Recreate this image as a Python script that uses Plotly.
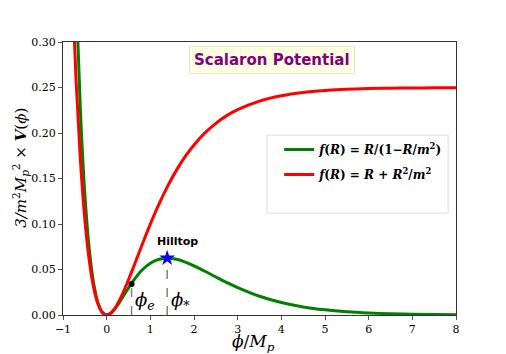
import plotly.graph_objects as go

# phi / M_p grid and potential values
phi = [-0.8, -0.7, -0.6, -0.5, -0.4, -0.3, -0.2, -0.1, 0.0, 0.1, 0.2, 0.3, 0.4, 0.5, 0.6,
       0.8, 1.0, 1.2, 1.4, 1.6, 1.8, 2.0, 2.25, 2.5, 2.75, 3.0, 3.5, 4.0, 4.5, 5.0,
       5.5, 6.0, 6.5, 7.0, 7.5, 8.0]
v_starobinsky = [0.3755, 0.2569, 0.1690, 0.1052, 0.0605, 0.0306, 0.01226, 0.00277, 0.0,
                 0.00227, 0.00822, 0.0168, 0.0272, 0.0387, 0.0509, 0.0758, 0.0999, 0.1221,
                 0.1419, 0.1592, 0.1742, 0.1869, 0.2001, 0.2106, 0.2191, 0.2257, 0.2351,
                 0.2409, 0.2445, 0.2466, 0.2480, 0.2488, 0.2493, 0.2495, 0.2497, 0.2498]
v_hilltop = [0.5383, 0.3537, 0.2231, 0.1330, 0.0731, 0.0353, 0.01352, 0.00291, 0.0,
             0.00215, 0.00742, 0.01437, 0.02203, 0.02968, 0.03687, 0.04884, 0.05697,
             0.06132, 0.06249, 0.06123, 0.0582, 0.05406, 0.04807, 0.0418, 0.03568,
             0.03006, 0.02061, 0.0137, 0.00889, 0.00568, 0.00358, 0.00224, 0.00139,
             0.00086, 0.00052, 0.00032]

phi_e, v_e = 0.57, 0.034
phi_star, v_star = 1.386, 0.0625

serif = "DejaVu Serif"
sans = "DejaVu Sans"

fig = go.Figure()

fig.add_trace(go.Scatter(
    x=phi, y=v_hilltop, mode="lines", line=dict(color="green", width=3, shape="spline"),
    legendgroup="a",
    name="<b><i>f</i>(<i>R</i>) = <i>R</i>/(1−<i>R</i>/<i>m</i><sup>2</sup>)</b>"))
fig.add_trace(go.Scatter(
    x=phi, y=v_starobinsky, mode="lines", line=dict(color="red", width=3, shape="spline"),
    legendgroup="b",
    name="<b><i>f</i>(<i>R</i>) = <i>R</i> + <i>R</i><sup>2</sup>/<i>m</i><sup>2</sup></b>"))

# dashed drop lines
for xv, yv in [(phi_e, v_e), (phi_star, v_star)]:
    fig.add_trace(go.Scatter(x=[xv, xv], y=[0, yv], mode="lines", showlegend=False,
                             line=dict(color="gray", width=1.5, dash="dash")))

fig.add_trace(go.Scatter(x=[phi_e], y=[v_e], mode="markers", showlegend=False,
                         marker=dict(color="black", size=6)))
fig.add_trace(go.Scatter(x=[phi_star], y=[v_star], mode="markers", showlegend=False,
                         marker=dict(color="blue", size=12, symbol="star")))

fig.add_annotation(x=phi_e + 0.04, y=0.015, text="<i>ϕ</i><sub><i>e</i></sub>", showarrow=False,
                   xanchor="left", font=dict(family=serif, size=18, color="black"))
fig.add_annotation(x=phi_star + 0.05, y=0.015, text="<i>ϕ</i><sub>*</sub>", showarrow=False,
                   xanchor="left", font=dict(family=serif, size=18, color="black"))
fig.add_annotation(x=1.63, y=0.0805, text="<b>Hilltop</b>", showarrow=False,
                   font=dict(family=sans, size=11, color="black"))
fig.add_annotation(x=3.78, y=0.28, text="<b>Scalaron Potential</b>", showarrow=False,
                   font=dict(family=sans, size=15, color="purple"),
                   bgcolor="#FFFFE0", bordercolor="#e6e6d0", borderwidth=1, borderpad=4)

# axis titles
fig.add_annotation(xref="paper", yref="paper", x=0.485, y=-0.102, yanchor="middle",
                   text="<i>ϕ</i>/<i>M</i><sub><i>p</i></sub>", showarrow=False,
                   font=dict(family=serif, size=17, color="black"))
fig.add_annotation(xref="paper", yref="paper", x=-0.109, y=0.54, textangle=-90,
                   xanchor="center", yanchor="middle",
                   text="<i>3/m</i><sup>2</sup><i>M</i><sub><i>p</i></sub><sup>2</sup> × <b><i>V</i></b>(<i>ϕ</i>)",
                   showarrow=False, font=dict(family=serif, size=15, color="black"))

# legend frame
fig.add_shape(type="rect", xref="paper", yref="paper", x0=0.519, x1=0.98, y0=0.373, y1=0.659,
              line=dict(color="#dddddd", width=1), fillcolor="white", layer="below")

axis_common = dict(showline=True, linecolor="#333333", linewidth=1, mirror=True,
                   ticks="outside", ticklen=4, tickcolor="#555555", showgrid=False,
                   zeroline=False, automargin=False,
                   tickfont=dict(family=serif, size=11, color="black"))

fig.update_layout(
    width=506, height=354,
    margin=dict(l=55, r=58, t=34, b=47),
    plot_bgcolor="white", paper_bgcolor="white",
    xaxis=dict(range=[-1, 8], dtick=1, **axis_common),
    yaxis=dict(range=[0, 0.30], dtick=0.05, tickformat=".2f", **axis_common),
    legend=dict(x=0.55, y=0.56, xanchor="left", yanchor="middle",
                bgcolor="rgba(0,0,0,0)", borderwidth=0,
                font=dict(family=serif, size=12, color="black"),
                tracegroupgap=6, itemwidth=30),
)

fig.write_html("out.html")
